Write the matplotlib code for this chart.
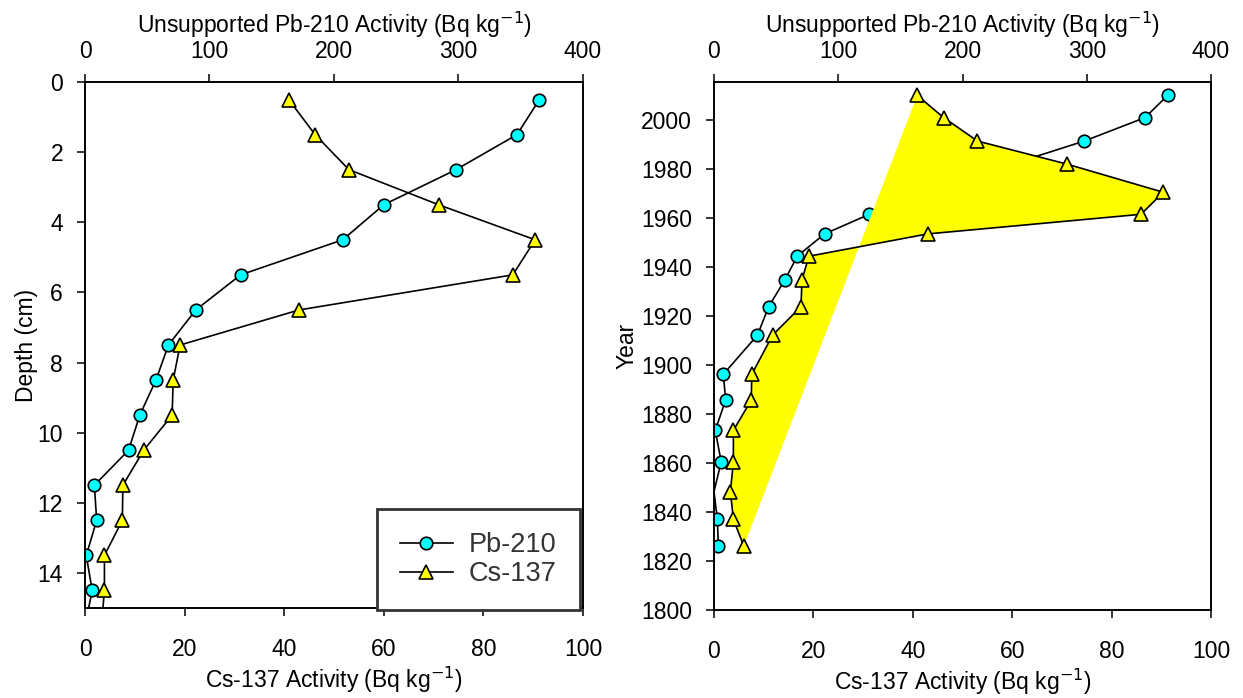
import matplotlib
matplotlib.use('Agg')
import matplotlib.pyplot as plt

plt.rcParams['font.family'] = ['Liberation Sans', 'DejaVu Sans']
plt.rcParams['font.size'] = 16.5

# Datos del nucleo (profundidad media de cada capa)
depth = [0.5, 1.5, 2.5, 3.5, 4.5, 5.5, 6.5, 7.5, 8.5, 9.5,
         10.5, 11.5, 12.5, 13.5, 14.5, 15.5, 16.5, 17.5]
year = [2010, 2001, 1991.4, 1982, 1970.5, 1961.5, 1953.5, 1944.4, 1934.7,
        1923.8, 1912.2, 1896.2, 1885.7, 1873.3, 1860.5, 1848.3, 1837, 1826.1]
pb210 = [365, 347, 298, 240, 207, 125, 89, 67, 57, 44,
         35, 7.5, 9.4, 1.0, 5.8, 0, 2.7, 3.5]
cs137 = [40.9, 46.2, 53.0, 71.0, 90.4, 85.9, 43.0, 19.1, 17.7, 17.5,
         11.8, 7.6, 7.5, 3.9, 3.9, 3.3, 3.9, 6.0]

# la muestra con Pb-210 ~ 0 no lleva simbolo
pb_marks = [i for i in range(len(pb210)) if pb210[i] > 0.5]

fig = plt.figure(figsize=(12.43, 6.98), dpi=100)
ax1 = fig.add_axes([85 / 1243, 1 - 608 / 698, 498 / 1243, 526 / 698])
ax2 = fig.add_axes([714 / 1243, 1 - 610 / 698, 497 / 1243, 528 / 698])

circ = dict(color='black', lw=1.2, marker='o', ms=9, mfc='#00FFFF',
            mec='black', mew=1.2)
tri = dict(color='black', lw=1.2, marker='^', ms=10, mfc='#FFFF00',
           mec='black', mew=1.2)


def style(ax, top):
    for sp in ax.spines.values():
        sp.set_linewidth(1.2)
    for sp in top.spines.values():
        sp.set_linewidth(1.2)
    ax.tick_params(direction='out', length=5.8, width=1.1, pad=10,
                   top=False, right=False)
    ax.tick_params(axis='x', pad=16)
    top.tick_params(direction='out', length=5.8, width=1.1, pad=8,
                    bottom=False, left=False, right=False)
    ax.set_xlim(0, 100)
    top.set_xlim(0, 400)
    ax.set_xticks([0, 20, 40, 60, 80, 100])
    top.set_xticks([0, 100, 200, 300, 400])
    # Pb-210 por debajo del relleno y de Cs-137
    top.set_zorder(ax.get_zorder() - 1)
    ax.patch.set_visible(False)
    ax.set_xlabel('Cs-137 Activity (Bq kg$^{-1}$)')
    top.set_xlabel('Unsupported Pb-210 Activity (Bq kg$^{-1}$)')
    ax.xaxis.set_label_coords(0.5, -0.108)
    top.xaxis.set_label_coords(0.5, 1.093)


# Panel izquierdo: profundidad
top1 = ax1.twiny()
p_line, = top1.plot(pb210, depth, markevery=pb_marks, **circ)
c_line, = ax1.plot(cs137, depth, **tri)
ax1.set_ylim(15, 0)
ax1.set_yticks(range(0, 15, 2))
ax1.set_ylabel('Depth (cm)')
ax1.yaxis.set_label_coords(-0.095, 0.5)
style(ax1, top1)

leg = ax1.legend([p_line, c_line], ['Pb-210', 'Cs-137'],
                 loc='lower left', bbox_to_anchor=(0.586, -0.004),
                 borderaxespad=0, numpoints=1, fontsize=19.5,
                 handlelength=1.95, handletextpad=0.6, labelspacing=0.1,
                 borderpad=0.85, fancybox=False, framealpha=1,
                 edgecolor='#333333')
leg.get_frame().set_linewidth(2)
for t in leg.get_texts():
    t.set_color('#333333')

# Panel derecho: edad
top2 = ax2.twiny()
top2.plot(pb210, year, markevery=pb_marks, **circ)
ax2.fill(cs137, year, color='#FFFF00', lw=0, zorder=1)
ax2.plot(cs137, year, zorder=2, **tri)
ax2.set_ylim(1800, 2015.5)
ax2.set_yticks(range(1800, 2001, 20))
ax2.set_ylabel('Year')
ax2.yaxis.set_label_coords(-0.152, 0.5)
style(ax2, top2)

plt.savefig('out.png', dpi=100)
